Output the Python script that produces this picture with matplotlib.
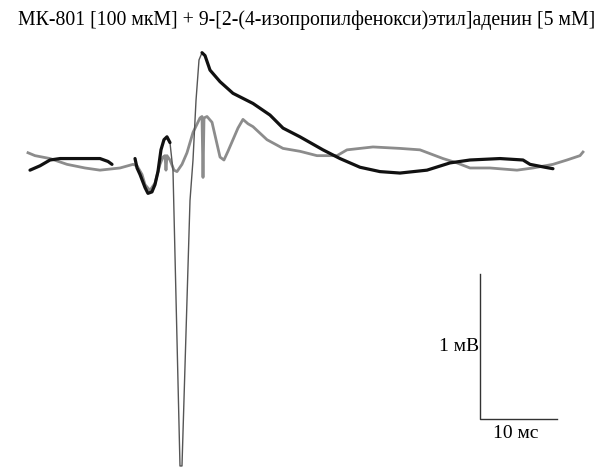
import matplotlib
matplotlib.use("Agg")
import matplotlib.pyplot as plt

plt.rcParams['font.family'] = ['Liberation Serif', 'DejaVu Serif']

TITLE = "МК-801 [100 мкМ] + 9-[2-(4-изопропилфенокси)этил]аденин [5 мМ]"

# black trace (ms, mV), split where the fast artefact is drawn thin
black_a_t = [0, 1.30, 2.60, 3.90, 6.49, 9.09, 10.13, 10.65]
black_a_v = [-0.07, -0.04, 0.00, 0.01, 0.01, 0.01, -0.01, -0.03]

black_b_t = [13.64, 13.90, 14.29, 14.94, 15.32, 15.84, 16.23, 16.62, 17.01, 17.40, 17.79, 18.18]
black_b_v = [0.01, -0.055, -0.10, -0.19, -0.23, -0.22, -0.17, -0.08, 0.07, 0.14, 0.16, 0.12]

spike_t = [18.18, 18.57, 19.48, 19.74, 20.78, 21.17, 21.56, 21.95, 22.34]
spike_v = [0.12, -0.07, -2.11, -2.11, -0.28, 0.00, 0.41, 0.69, 0.74]

black_c_t = [22.34, 22.73, 23.38, 24.68, 26.36, 28.96, 31.17, 32.86, 35.06, 38.05, 40.26,
             42.86, 45.45, 48.05, 51.56, 54.55, 57.14, 61.04, 64.03, 64.94, 66.88, 67.92]
black_c_v = [0.74, 0.72, 0.62, 0.54, 0.46, 0.39, 0.31, 0.22, 0.16, 0.07, 0.01,
             -0.05, -0.08, -0.09, -0.07, -0.02, 0.00, 0.01, 0.00, -0.03, -0.05, -0.06]

# grey trace (ms, mV)
grey_t = [-0.26, 0.65, 2.60, 4.81, 7.14, 9.09, 11.69, 13.38, 13.90, 14.55, 14.94, 15.58,
          16.23, 16.88, 17.27, 17.53, 17.66, 17.79, 18.18, 18.70, 19.09, 19.74, 20.39,
          21.17, 22.08, 22.34, 22.47, 22.60, 22.99, 23.64, 24.16, 24.68, 25.19, 25.71,
          26.36, 27.01, 27.66, 28.31, 28.96, 30.78, 32.86, 35.06, 37.27, 39.87, 41.17,
          44.55, 48.05, 50.65, 53.64, 55.45, 57.14, 59.74, 63.25, 65.32, 67.92, 69.74,
          71.43, 71.82]
grey_v = [0.05, 0.03, 0.01, -0.03, -0.055, -0.07, -0.055, -0.03, -0.04, -0.10, -0.17, -0.21,
          -0.16, -0.03, 0.02, 0.03, -0.07, 0.03, 0.00, -0.07, -0.08, -0.03, 0.05,
          0.19, 0.29, 0.30, -0.12, 0.29, 0.30, 0.26, 0.14, 0.02, 0.00, 0.06,
          0.14, 0.22, 0.28, 0.25, 0.23, 0.14, 0.08, 0.06, 0.03, 0.03, 0.07,
          0.09, 0.08, 0.07, 0.01, -0.02, -0.055, -0.055, -0.07, -0.055, -0.03, 0.00,
          0.03, 0.055]

# scale bar: 10 ms by 1 mV
BAR_T0 = 58.44
BAR_V0 = -1.786
BAR_MS = 10
BAR_MV = 1

fig = plt.figure(figsize=(6.01, 4.68), dpi=100)
ax = fig.add_axes([0, 0, 1, 1])
ax.set_xlim(-3.896, 74.16)
ax.set_ylim(-2.124, 1.1034)
ax.axis('off')

ax.plot(grey_t, grey_v, color='#8c8c8c', lw=2.0, zorder=2, solid_joinstyle='round')
ax.plot(spike_t, spike_v, color='#555555', lw=1.0, zorder=3)
for t, v in [(black_a_t, black_a_v), (black_b_t, black_b_v), (black_c_t, black_c_v)]:
    ax.plot(t, v, color='#111111', lw=2.3, zorder=4, solid_capstyle='round')

ax.plot([BAR_T0, BAR_T0, BAR_T0 + BAR_MS], [BAR_V0 + BAR_MV, BAR_V0, BAR_V0],
        color='#333333', lw=1.0)
ax.text(BAR_T0 - 0.15, BAR_V0 + BAR_MV / 2, "1 мВ", ha='right', va='center', fontsize=14)
ax.text(BAR_T0 + BAR_MS / 2 - 0.4, BAR_V0 - 0.04, "10 мс", ha='center', va='top', fontsize=14)

fig.text(0.511, 0.957, TITLE, ha='center', va='center', fontsize=14.2)

fig.savefig("out.png", dpi=100)
